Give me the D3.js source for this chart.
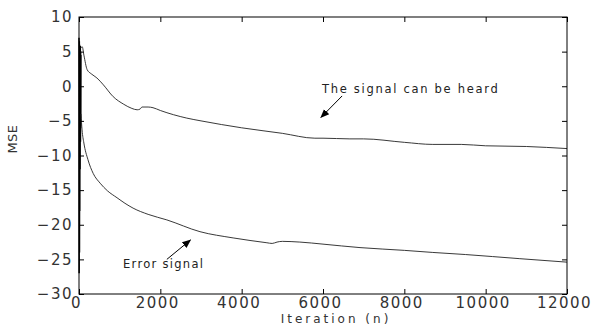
<!DOCTYPE html>
<html>
<head>
<meta charset="UTF-8">
<script src="https://d3js.org/d3.v7.min.js"></script>
<style>
  body { margin: 0; background: #fff; }
  svg { font-family: "DejaVu Sans", sans-serif; }
</style>
</head>
<body>
<svg width="599" height="327"></svg>
<script>
// values
const xTicks = [0, 2000, 4000, 6000, 8000, 10000, 12000];
const yTicks = [10, 5, 0, -5, -10, -15, -20, -25, -30];

// initial transient (dense oscillation near n=0)
const transientN = [0, 4, 8, 12, 16, 20, 24, 28, 32, 36, 40, 44, 48];
const transientV = [7, -27, 6.5, -24, 6, -18, 5.5, -12, 5.8, -8, 5, -6, 4.5];

const upperN = [40, 80, 120, 200, 300, 440, 600, 840, 1100, 1300, 1430, 1500, 1550, 1700, 1820, 2000, 2650, 3000, 4000, 5000, 5800, 6000, 6660, 7000, 8000, 8700, 9000, 9400, 10000, 11000, 12000];
const upperV = [5.5, 5.7, 4.5, 2.4, 1.8, 1.2, 0.2, -1.5, -2.6, -3.2, -3.4, -3.3, -3.0, -3.0, -3.1, -3.5, -4.6, -5.0, -6.0, -6.8, -7.5, -7.5, -7.6, -7.6, -8.1, -8.4, -8.4, -8.4, -8.6, -8.7, -9.0];

const lowerN = [48, 75, 120, 220, 350, 520, 700, 935, 1130, 1330, 1700, 2160, 2975, 3790, 4620, 4750, 4870, 5000, 5430, 6000, 6910, 8000, 8700, 9500, 10840, 12000];
const lowerV = [-4, -6.3, -8.2, -10.6, -12.6, -14.0, -15.1, -16.1, -16.9, -17.6, -18.5, -19.3, -21.0, -21.9, -22.6, -22.7, -22.5, -22.4, -22.5, -22.8, -23.3, -23.7, -24.0, -24.3, -24.9, -25.4];

const svg = d3.select("svg");
const m = { left: 79, right: 32, top: 17, bottom: 33 };
const W = 599, H = 327;

const x = d3.scaleLinear().domain([0, 12000]).range([m.left, W - m.right]);
const y = d3.scaleLinear().domain([-30, 10]).range([H - m.bottom, m.top]);

const line = d3.line().x(d => x(d[0])).y(d => y(d[1]));

// curves
svg.append("path")
  .datum(transientN.map((n, i) => [n, transientV[i]]))
  .attr("d", line).attr("fill", "none").attr("stroke", "#000").attr("stroke-width", 1.5);

svg.append("path")
  .datum(upperN.map((n, i) => [n, upperV[i]]))
  .attr("d", line.curve(d3.curveMonotoneX)).attr("fill", "none").attr("stroke", "#222").attr("stroke-width", 0.9);

svg.append("path")
  .datum(lowerN.map((n, i) => [n, lowerV[i]]))
  .attr("d", line.curve(d3.curveMonotoneX)).attr("fill", "none").attr("stroke", "#222").attr("stroke-width", 0.9);

// frame
svg.append("rect")
  .attr("x", x(0)).attr("y", y(10))
  .attr("width", x(12000) - x(0)).attr("height", y(-30) - y(10))
  .attr("fill", "none").attr("stroke", "#000").attr("stroke-width", 1);

// axes with inward ticks
const axBottom = svg.append("g").attr("transform", `translate(0,${y(-30)})`)
  .call(d3.axisBottom(x).tickValues(xTicks).tickSize(-5).tickPadding(3).tickFormat(d3.format("d")));
const axTop = svg.append("g").attr("transform", `translate(0,${y(10)})`)
  .call(d3.axisTop(x).tickValues(xTicks).tickSize(-5).tickFormat(""));
const axLeft = svg.append("g").attr("transform", `translate(${x(0)},0)`)
  .call(d3.axisLeft(y).tickValues(yTicks).tickSize(-5).tickPadding(6).tickFormat(d => d < 0 ? "\u2212" + Math.abs(d) : d));
const axRight = svg.append("g").attr("transform", `translate(${x(12000)},0)`)
  .call(d3.axisRight(y).tickValues(yTicks).tickSize(-5).tickFormat(""));

[axBottom, axTop, axLeft, axRight].forEach(g => {
  g.select(".domain").remove();
  g.selectAll("line").attr("stroke", "#000");
  g.selectAll("text").attr("fill", "#333").style("font-size", "15px")
    .style("font-family", "\"DejaVu Sans\", sans-serif").style("letter-spacing", "1.5px");
});
axBottom.selectAll("text").attr("dx", "-3px");

// axis labels
svg.append("text").attr("x", 336).attr("y", 323).attr("text-anchor", "middle")
  .attr("fill", "#333").style("font-size", "12px").style("letter-spacing", "3px").text("Iteration (n)");
svg.append("text").attr("transform", "translate(17,139) rotate(-90)").attr("text-anchor", "middle")
  .attr("fill", "#333").style("font-size", "13px").style("letter-spacing", "0.5px").text("MSE");

// annotations
svg.append("defs").append("marker")
  .attr("id", "ah").attr("viewBox", "0 0 10 10").attr("refX", 9).attr("refY", 5)
  .attr("markerWidth", 9).attr("markerHeight", 9).attr("orient", "auto")
  .append("path").attr("d", "M0,1 L10,5 L0,9 Z").attr("fill", "#000");

svg.append("text").attr("x", 322).attr("y", 93).attr("fill", "#222")
  .style("font-size", "11.5px").style("letter-spacing", "1.7px").text("The signal can be heard");
svg.append("line").attr("x1", x(6470)).attr("y1", y(-1.4)).attr("x2", x(5950)).attr("y2", y(-4.5))
  .attr("stroke", "#000").attr("marker-end", "url(#ah)");

svg.append("text").attr("x", 123).attr("y", 268).attr("fill", "#222")
  .style("font-size", "11.5px").style("letter-spacing", "1.3px").text("Error signal");
svg.append("line").attr("x1", x(2160)).attr("y1", y(-25)).attr("x2", x(2740)).attr("y2", y(-22.2))
  .attr("stroke", "#000").attr("marker-end", "url(#ah)");
</script>
</body>
</html>
